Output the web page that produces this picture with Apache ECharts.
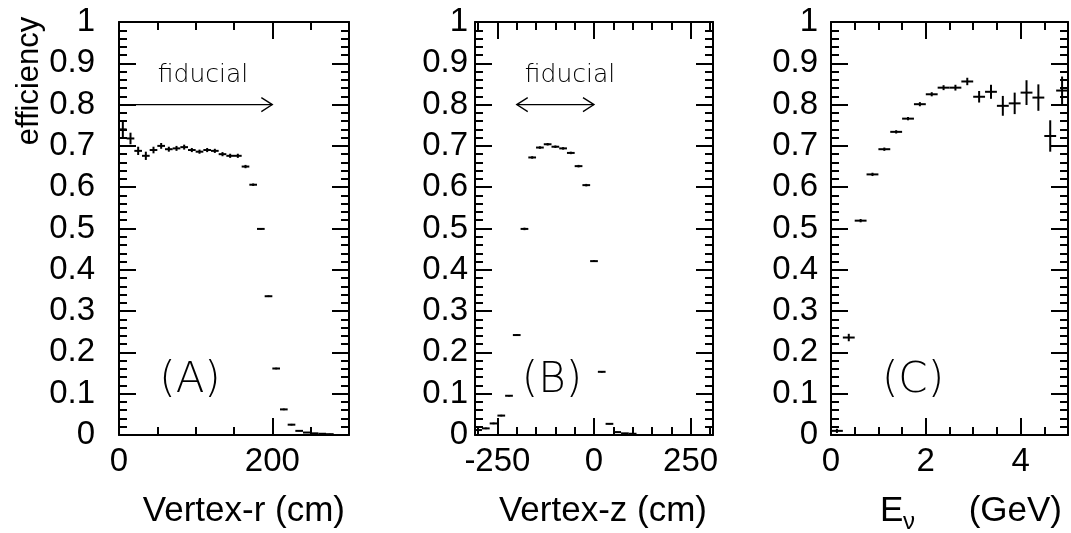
<!DOCTYPE html>
<html><head><meta charset="utf-8">
<script src="https://cdn.jsdelivr.net/npm/echarts@6/dist/echarts.min.js"></script>
<style>html,body{margin:0;padding:0;background:#fff}#c{width:1071px;height:533px}</style>
</head><body><div id="c"></div>
<script>
// ---- data: panel A (vertex r) ----
const rBins = [5,15,25,35,45,55,65,75,85,95,105,115,125,135,145,155,165,175,185,195,205,215,225,235,245,255,265,275];
const rEff  = [0.740,0.718,0.688,0.676,0.690,0.700,0.692,0.694,0.697,0.690,0.686,0.690,0.688,0.680,0.676,0.676,0.650,0.606,0.499,0.336,0.161,0.062,0.025,0.010,0.006,0.004,0.003,0.002];
const rErr  = [0.020,0.014,0.010,0.010,0.008,0.007,0.006,0.006,0.006,0.005,0.005,0.005,0.005,0.005,0.005,0.005,0.004,0.003,0.002,0.002,0.002,0.002,0.002,0.001,0.001,0.001,0.001,0.001];
const rHalf = 5;
// ---- data: panel B (vertex z) ----
const zBins = [-300,-280,-260,-240,-220,-200,-180,-160,-140,-120,-100,-80,-60,-40,-20,0,20,40,60,80,100];
const zEff  = [0.012,0.016,0.028,0.047,0.095,0.242,0.499,0.672,0.696,0.704,0.698,0.694,0.683,0.651,0.605,0.421,0.153,0.027,0.007,0.004,0.003];
const zErr  = [0.002,0.002,0.002,0.002,0.002,0.002,0.003,0.003,0.003,0.003,0.003,0.003,0.003,0.003,0.003,0.002,0.002,0.001,0.001,0.001,0.001];
const zHalf = 10;
// ---- data: panel C (neutrino energy) ----
const eBins = [0.125,0.375,0.625,0.875,1.125,1.375,1.625,1.875,2.125,2.375,2.625,2.875,3.125,3.375,3.625,3.875,4.125,4.375,4.625,4.875];
const eEff  = [0.010,0.236,0.519,0.631,0.692,0.734,0.766,0.801,0.825,0.841,0.841,0.856,0.819,0.831,0.797,0.803,0.829,0.817,0.724,0.834];
const eErr  = [0.005,0.009,0.004,0.004,0.004,0.004,0.004,0.005,0.005,0.006,0.007,0.009,0.014,0.017,0.024,0.026,0.030,0.032,0.038,0.034];
const eHalf = 0.125;
// ---- ticks ----
const rMajor = [0,200],  rMinor = [50,100,150,250,300];
const zMajor = [-250,0,250], zMinor = [-300,-200,-150,-100,-50,50,100,150,200,300];
const eMajor = [0,2,4], eMinor = [0.5,1,1.5,2.5,3,3.5,4.5];
// ---- fiducial ranges ----
const fidR = [0,200], fidZ = [-200,0], fidY = 0.8;

const FONT = '"Liberation Sans", Arial, Helvetica, sans-serif';
const THIN = '"DejaVu Sans"';
const BLK = '#000';

const panels = [
  {left:119, width:230, min:0, max:300, major:rMajor, minor:rMinor, ylm:24,
   data:rBins.map((x,i)=>[x,rEff[i],rErr[i],rHalf])},
  {left:475, width:238, min:-308, max:308, major:zMajor, minor:zMinor, ylm:7,
   data:zBins.map((x,i)=>[x,zEff[i],zErr[i],zHalf])},
  {left:831, width:237, min:0, max:5, major:eMajor, minor:eMinor, ylm:13,
   data:eBins.map((x,i)=>[x,eEff[i],eErr[i],eHalf])}
];
const TOP = 22, HEIGHT = 413;

const grid = [], xAxis = [], yAxis = [], series = [];
panels.forEach((p, i) => {
  const rect = {left:p.left, top:TOP, width:p.width, height:HEIGHT, show:false};
  grid.push(Object.assign({}, rect), Object.assign({}, rect));
  const g = 2*i, go = 2*i+1;
  const base = {type:'value', min:p.min, max:p.max, splitLine:{show:false}, axisPointer:{show:false}};
  const line = {show:true, onZero:false, lineStyle:{color:BLK, width:2}};
  xAxis.push(Object.assign({}, base, {gridIndex:g, position:'bottom', axisLine:line,
      axisTick:{show:true, inside:true, length:17, customValues:p.major, lineStyle:{color:BLK,width:2}},
      axisLabel:{show:true, customValues:p.major, margin:10, color:BLK, fontSize:33, fontFamily:FONT}}));
  xAxis.push(Object.assign({}, base, {gridIndex:g, position:'top', axisLine:line,
      axisTick:{show:true, inside:true, length:17, customValues:p.major, lineStyle:{color:BLK,width:2}},
      axisLabel:{show:false}}));
  xAxis.push(Object.assign({}, base, {gridIndex:go, position:'bottom', axisLine:{show:false},
      axisTick:{show:true, inside:true, length:8, customValues:p.minor, lineStyle:{color:BLK,width:2}},
      axisLabel:{show:false}}));
  xAxis.push(Object.assign({}, base, {gridIndex:go, position:'top', axisLine:{show:false},
      axisTick:{show:true, inside:true, length:8, customValues:p.minor, lineStyle:{color:BLK,width:2}},
      axisLabel:{show:false}}));
  const ybase = {type:'value', min:0, max:1, interval:0.1, splitLine:{show:false}, axisLine:line,
      axisTick:{show:true, inside:true, length:17, lineStyle:{color:BLK,width:2}},
      minorTick:{show:true, splitNumber:5, length:8, lineStyle:{color:BLK,width:2}}};
  yAxis.push(Object.assign({}, ybase, {gridIndex:g, position:'left',
      axisLabel:{show:true, margin:p.ylm, color:BLK, fontSize:33, fontFamily:FONT}}));
  yAxis.push(Object.assign({}, ybase, {gridIndex:g, position:'right', axisLabel:{show:false}}));
  yAxis.push({type:'value', gridIndex:go, min:0, max:1, show:false});
  series.push({
    type:'custom', xAxisIndex:4*i, yAxisIndex:3*i, data:p.data, clip:true, silent:true,
    renderItem:function(params, api){
      const x=api.value(0), y=api.value(1), e=api.value(2), h=api.value(3);
      const a=api.coord([x-h,y]), b=api.coord([x+h,y]), c=api.coord([x,y-e]), d=api.coord([x,y+e]);
      const st={stroke:BLK, lineWidth:2};
      return {type:'group', children:[
        {type:'line', shape:{x1:a[0],y1:a[1],x2:b[0],y2:b[1]}, style:st},
        {type:'line', shape:{x1:c[0],y1:c[1],x2:d[0],y2:d[1]}, style:st}
      ]};
    }
  });
});

function arrowSeries(xi, yi, range, both){
  return {
    type:'custom', xAxisIndex:xi, yAxisIndex:yi, silent:true, clip:false,
    data:[[range[0], range[1], fidY, both?1:0]],
    renderItem:function(params, api){
      const a=api.coord([api.value(0), api.value(2)]), b=api.coord([api.value(1), api.value(2)]);
      const L=11, W=7, st={stroke:BLK, lineWidth:1.3, fill:null};
      const ch=[
        {type:'line', shape:{x1:a[0],y1:a[1],x2:b[0],y2:b[1]}, style:st},
        {type:'polyline', shape:{points:[[b[0]-L,b[1]-W],[b[0],b[1]],[b[0]-L,b[1]+W]]}, style:st}
      ];
      if (api.value(3)) ch.push({type:'polyline', shape:{points:[[a[0]+L,a[1]-W],[a[0],a[1]],[a[0]+L,a[1]+W]]}, style:st});
      return {type:'group', children:ch};
    }
  };
}
series.push(arrowSeries(0, 0, fidR, false));
series.push(arrowSeries(4, 3, fidZ, true));

function txt(x, y, text, size, opts){
  return Object.assign({type:'text', x:x, y:y, silent:true, style:Object.assign({text:text, fill:BLK,
    font:size+'px '+FONT, textAlign:'center', textVerticalAlign:'middle'}, opts||{})});
}
function thin(x, y, text, size){
  return {type:'text', x:x, y:y, silent:true, style:{text:text, fill:BLK,
    font:'200 '+size+'px '+THIN, textAlign:'center', textVerticalAlign:'middle'}};
}
const graphic = [
  Object.assign(txt(29, 81, 'efficiency', 31), {rotation:Math.PI/2}),
  thin(203, 75, 'fiducial', 25),
  thin(570, 75, 'fiducial', 25),
  thin(190, 381, '(A)', 42),
  thin(552, 381, '(B)', 42),
  thin(913, 381, '(C)', 42),
  txt(345, 511, 'Vertex-r (cm)', 35, {textAlign:'right'}),
  txt(707, 511, 'Vertex-z (cm)', 35, {textAlign:'right'}),
  txt(1062, 511, '(GeV)', 35, {textAlign:'right'}),
  txt(880, 511, 'E', 35, {textAlign:'left'}),
  txt(903, 522, 'ν', 24, {textAlign:'left'})
];

const chart = echarts.init(document.getElementById('c'), null, {renderer:'canvas'});
chart.setOption({animation:false, backgroundColor:'#fff', grid, xAxis, yAxis, series, graphic});
</script>
</body></html>
